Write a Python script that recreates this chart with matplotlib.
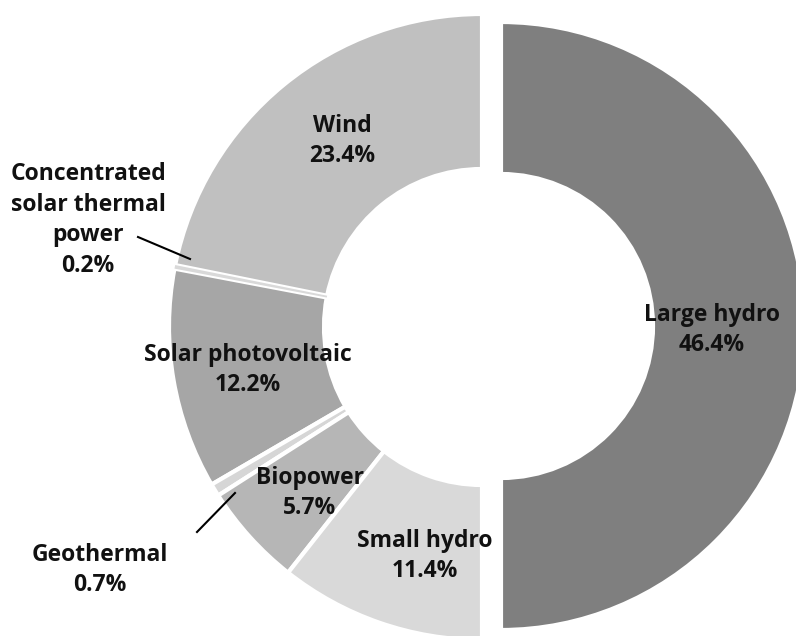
import matplotlib.pyplot as plt

# renewable power capacity shares, percent
large_name = "Large hydro"
large_share = 46.4
names = ["Wind", "Concentrated\nsolar thermal\npower", "Solar photovoltaic",
         "Geothermal", "Biopower", "Small hydro"]
shares = [23.4, 0.2, 12.2, 0.7, 5.7, 11.4]
colors = ["#c0c0c0", "#d9d9d9", "#a6a6a6", "#d6d6d6", "#b6b6b6", "#d9d9d9"]

W, H = 796, 636
fig = plt.figure(figsize=(W / 100, H / 100), dpi=100)
ax = fig.add_axes([0, 0, 1, 1])

edge = dict(edgecolor="white", linewidth=3)

# the small sources fill the left half of the ring
total = sum(shares)
wedges, _ = ax.pie([s / total * 0.5 for s in shares], colors=colors,
                   normalize=False, startangle=90, counterclock=True,
                   radius=313, center=(482, H - 327),
                   wedgeprops=dict(width=155, **edge))
# keep the thin CSP sliver visible between the white borders
wedges[1].set_linewidth(0)
wedges[1].set_zorder(wedges[0].get_zorder() + 1)

# large hydro is pulled out on the right half
ax.pie([0.5], colors=["#7f7f7f"], normalize=False, startangle=90,
       counterclock=False, radius=304, center=(501, H - 326),
       wedgeprops=dict(width=152, **edge))

ax.set_xlim(0, W)
ax.set_ylim(0, H)
ax.set_aspect("auto")
ax.axis("off")

font = dict(family="Open Sans", fontweight="bold", fontsize=16.5,
            color="#111111", ha="center", va="center", linespacing=1.36)

label_xy = {
    "Wind": (342, 141),
    "Concentrated\nsolar thermal\npower": (88, 220),
    "Solar photovoltaic": (248, 370),
    "Geothermal": (100, 570),
    "Biopower": (310, 493),
    "Small hydro": (425, 556),
}
for name, share in zip(names, shares):
    x, y = label_xy[name]
    ax.text(x, H - y, f"{name}\n{share}%", **font)
ax.text(712, H - 330, f"{large_name}\n{large_share}%", **font)

# leader lines for the thin slices
ax.plot([138, 190], [H - 237, H - 259], color="black", lw=1.5)
ax.plot([197, 235], [H - 532, H - 493], color="black", lw=1.5)

fig.savefig("out.png", dpi=100)
